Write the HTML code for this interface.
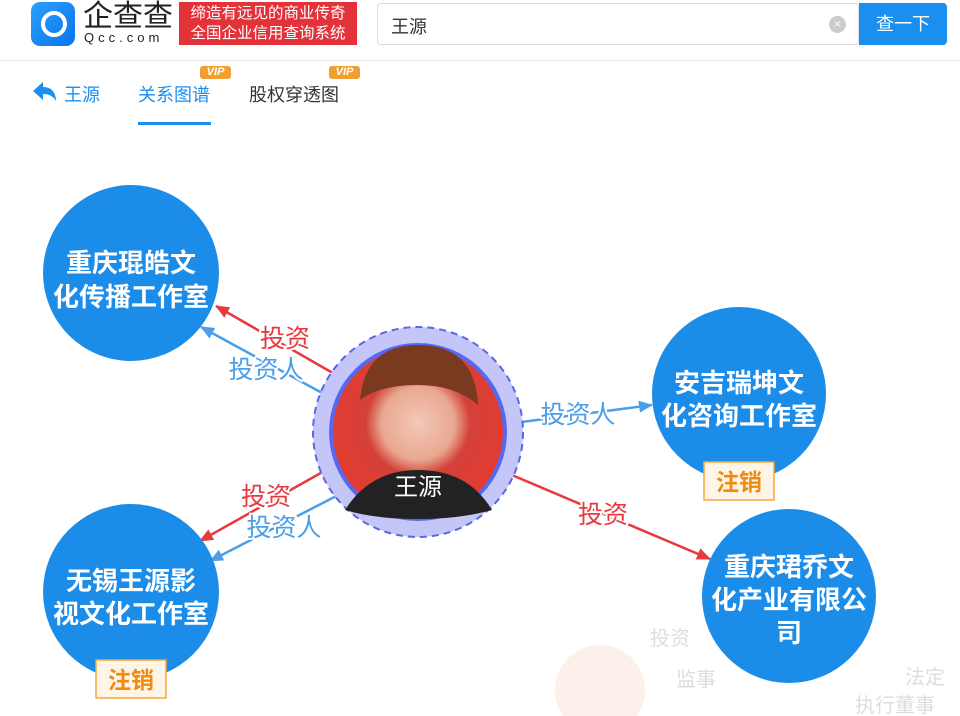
<!DOCTYPE html>
<html><head><meta charset="utf-8"><style>
body{margin:0;width:960px;height:716px;overflow:hidden;background:#fff;font-family:"Liberation Sans","Noto Sans CJK SC",sans-serif;position:relative}
.abs{position:absolute}
</style></head><body>
<!-- header -->
<div class="abs" style="left:31px;top:2px;width:44px;height:44px;border-radius:9px;background:linear-gradient(135deg,#2aa0ff,#0b74e8)"></div>
<div class="abs" style="left:41px;top:11px;width:18px;height:18px;border:4px solid #fff;border-radius:50%"></div>
<div class="abs" style="left:83px;top:1px;font-size:30px;color:#222;line-height:32px">企查查</div>
<div class="abs" style="left:84px;top:30px;font-size:13px;color:#222;letter-spacing:4px">Qcc.com</div>
<div class="abs" style="left:179px;top:2px;width:178px;height:43px;background:#e3323a;color:#fff;font-size:15.5px;line-height:20px;text-align:center;padding-top:2px;box-sizing:border-box">缔造有远见的商业传奇<br>全国企业信用查询系统</div>
<div class="abs" style="left:377px;top:3px;width:482px;height:42px;border:1px solid #ddd;border-radius:4px;box-sizing:border-box"></div>
<div class="abs" style="left:391px;top:13px;font-size:18px;color:#333">王源</div>
<div class="abs" style="left:829px;top:16px;width:17px;height:17px;border-radius:50%;background:#ccc;color:#fff;font-size:12px;text-align:center;line-height:17px">×</div>
<div class="abs" style="left:859px;top:3px;width:88px;height:42px;background:#1b8ff0;border-radius:0 4px 4px 0;color:#fff;font-size:18px;text-align:center;line-height:42px">查一下</div>
<div class="abs" style="left:0;top:60px;width:960px;height:1px;background:#e8e8e8"></div>
<!-- tabs -->
<svg class="abs" style="left:33px;top:82px" width="24" height="20"><path d="M0 9 L10 0 L10 5 C18 5 23 10 23 19 C20 14 16 12 10 12 L10 18 Z" fill="#1b8ff0"/></svg>
<div class="abs" style="left:64px;top:81px;font-size:18px;color:#1b8ff0">王源</div>
<div class="abs" style="left:138px;top:81px;font-size:18px;color:#1b8ff0">关系图谱</div>
<div class="abs" style="left:138px;top:122px;width:73px;height:3px;background:#1b8ff0"></div>
<div class="abs" style="left:200px;top:66px;width:31px;height:13px;background:#f0a030;border-radius:3px;color:#fff;font-size:11px;font-weight:bold;font-style:italic;text-align:center;line-height:13px">VIP</div>
<div class="abs" style="left:249px;top:81px;font-size:18px;color:#333">股权穿透图</div>
<div class="abs" style="left:329px;top:66px;width:31px;height:13px;background:#f0a030;border-radius:3px;color:#fff;font-size:11px;font-weight:bold;font-style:italic;text-align:center;line-height:13px">VIP</div>
<!-- diagram -->
<svg class="abs" style="left:0;top:0" width="960" height="716">
<defs>
<marker id="r" markerWidth="14" markerHeight="12" refX="13" refY="6" orient="auto" markerUnits="userSpaceOnUse"><path d="M0 0 L14 6 L0 12 Z" fill="#e8393f"/></marker>
<marker id="b" markerWidth="14" markerHeight="12" refX="13" refY="6" orient="auto" markerUnits="userSpaceOnUse"><path d="M0 0 L14 6 L0 12 Z" fill="#4a9fe8"/></marker>
<radialGradient id="ph" cx="50%" cy="45%" r="60%"><stop offset="0" stop-color="#f3c8b8"/><stop offset="0.35" stop-color="#e8a890"/><stop offset="0.5" stop-color="#d4403a"/><stop offset="1" stop-color="#e83a2a"/></radialGradient>
</defs>
<circle cx="600" cy="690" r="45" fill="#fbe6dc" opacity="0.6"/>
<g stroke-width="2.5" fill="none">
<line x1="345" y1="380" x2="216" y2="306" stroke="#e8393f" marker-end="url(#r)"/>
<line x1="335" y1="400" x2="201" y2="327" stroke="#4a9fe8" marker-end="url(#b)"/>
<line x1="506" y1="424" x2="652" y2="405" stroke="#4a9fe8" marker-end="url(#b)"/>
<line x1="500" y1="470" x2="710" y2="559" stroke="#e8393f" marker-end="url(#r)"/>
<line x1="335" y1="465" x2="200" y2="541" stroke="#e8393f" marker-end="url(#r)"/>
<line x1="348" y1="490" x2="210" y2="561" stroke="#4a9fe8" marker-end="url(#b)"/>
</g>
<g font-size="25" text-anchor="middle" font-family="Liberation Sans,Noto Sans CJK SC,sans-serif">
<text x="285" y="347" fill="#e8393f" stroke="#fff" stroke-width="4" paint-order="stroke">投资</text>
<text x="266" y="378" fill="#4a9fe8" stroke="#fff" stroke-width="4" paint-order="stroke">投资人</text>
<text x="578" y="423" fill="#4a9fe8" stroke="#fff" stroke-width="4" paint-order="stroke">投资人</text>
<text x="603" y="523" fill="#e8393f" stroke="#fff" stroke-width="4" paint-order="stroke">投资</text>
<text x="266" y="505" fill="#e8393f" stroke="#fff" stroke-width="4" paint-order="stroke">投资</text>
<text x="284" y="536" fill="#4a9fe8" stroke="#fff" stroke-width="4" paint-order="stroke">投资人</text>
</g>
<circle cx="418" cy="432" r="105" fill="#c4c6f8" stroke="#5b66e8" stroke-width="2" stroke-dasharray="7 5"/>
<circle cx="418" cy="432" r="87" fill="url(#ph)" stroke="#5568f0" stroke-width="4"/>
<path d="M360 400 Q365 345 418 345 Q475 345 478 405 Q455 385 418 385 Q380 385 360 400Z" fill="#7a3a20"/>
<path d="M345 510 Q370 470 418 470 Q468 470 492 510 Q460 519 418 519 Q375 519 345 510Z" fill="#222"/>
<text x="418" y="495" font-size="24" fill="#fff" text-anchor="middle" font-family="Liberation Sans,Noto Sans CJK SC,sans-serif">王源</text>
<circle cx="131" cy="273" r="88" fill="#1b8ce8"/>
<circle cx="739" cy="394" r="87" fill="#1b8ce8"/>
<circle cx="131" cy="592" r="88" fill="#1b8ce8"/>
<circle cx="789" cy="596" r="87" fill="#1b8ce8"/>
<g font-size="26" font-weight="bold" fill="#fff" text-anchor="middle" font-family="Liberation Sans,Noto Sans CJK SC,sans-serif">
<text x="131" y="272">重庆琨皓文</text><text x="131" y="306">化传播工作室</text>
<text x="739" y="392">安吉瑞坤文</text><text x="739" y="425">化咨询工作室</text>
<text x="131" y="590">无锡王源影</text><text x="131" y="623">视文化工作室</text>
<text x="789" y="576">重庆珺乔文</text><text x="789" y="609">化产业有限公</text><text x="789" y="642">司</text>
</g>
<rect x="704" y="462" width="70" height="38" fill="#fff5e6" stroke="#f7a53a" stroke-width="1.5"/>
<text x="739" y="490" font-size="23" font-weight="bold" fill="#f08a10" text-anchor="middle" font-family="Liberation Sans,Noto Sans CJK SC,sans-serif">注销</text>
<rect x="96" y="660" width="70" height="38" fill="#fff5e6" stroke="#f7a53a" stroke-width="1.5"/>
<text x="131" y="688" font-size="23" font-weight="bold" fill="#f08a10" text-anchor="middle" font-family="Liberation Sans,Noto Sans CJK SC,sans-serif">注销</text>
<g font-size="20" fill="#ddd" font-family="Liberation Sans,Noto Sans CJK SC,sans-serif">
<text x="650" y="645">投资</text><text x="676" y="686">监事</text><text x="905" y="684">法定</text><text x="855" y="712">执行董事</text>
</g>
</svg>
</body></html>
